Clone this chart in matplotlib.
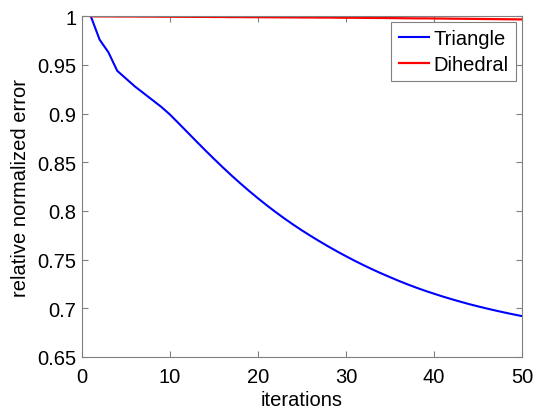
import numpy as np
from matplotlib import pyplot as plt

plt.rcParams['font.family'] = ['Liberation Sans', 'DejaVu Sans']

iterations = list(range(1, 51))

triangle = [1.000, 0.976, 0.963, 0.944, 0.936, 0.928, 0.921, 0.914, 0.907, 0.899,
            0.8899, 0.8807, 0.8715, 0.8624, 0.8535, 0.8448, 0.8364, 0.8283, 0.8205, 0.8130,
            0.8058, 0.7989, 0.7923, 0.7860, 0.7800, 0.7743, 0.7688, 0.7635, 0.7584, 0.7535,
            0.7488, 0.7443, 0.7400, 0.7359, 0.7320, 0.7282, 0.7246, 0.7212, 0.7180, 0.7150,
            0.7121, 0.7094, 0.7068, 0.7043, 0.7020, 0.6998, 0.6977, 0.6957, 0.6938, 0.6920]

dihedral = [1.0000, 0.9999, 0.9999, 0.9998, 0.9998, 0.9998, 0.9997, 0.9997, 0.9996, 0.9996,
            0.9995, 0.9995, 0.9994, 0.9994, 0.9993, 0.9993, 0.9992, 0.9992, 0.9991, 0.9991,
            0.9990, 0.9990, 0.9989, 0.9989, 0.9988, 0.9988, 0.9987, 0.9987, 0.9986, 0.9985,
            0.9985, 0.9984, 0.9983, 0.9983, 0.9982, 0.9981, 0.9980, 0.9979, 0.9979, 0.9978,
            0.9977, 0.9976, 0.9975, 0.9974, 0.9973, 0.9972, 0.9971, 0.9970, 0.9969, 0.9968]

xticks = [0, 10, 20, 30, 40, 50]
yticks = [0.65, 0.7, 0.75, 0.8, 0.85, 0.9, 0.95, 1]
yticklabels = ['0.65', '0.7', '0.75', '0.8', '0.85', '0.9', '0.95', '1']


def plot_errors():
    fig = plt.figure(figsize=(5.34, 4.14), dpi=100)
    ax = fig.add_axes([0.1536, 0.1353, 0.8239, 0.8229])

    ax.plot(iterations, triangle, color='#0000ff', lw=1.5, label='Triangle')
    ax.plot(iterations, dihedral, color='#ff0000', lw=1.6, label='Dihedral')

    ax.set_xlim(0, 50)
    ax.set_ylim(0.65, 1)
    ax.set_xticks(xticks)
    ax.set_yticks(yticks)
    ax.set_yticklabels(yticklabels)
    ax.tick_params(direction='in', top=True, right=True, length=4,
                   color='#808080', labelsize=14.5)
    ax.tick_params(axis='x', pad=7)
    ax.tick_params(axis='y', pad=4)
    for s in ax.spines.values():
        s.set_color('#808080')
        s.set_linewidth(0.8)

    ax.set_xlabel('iterations', fontsize=14.5, labelpad=3)
    ax.set_ylabel('relative normalized error', fontsize=14.5, labelpad=5)

    leg = ax.legend(loc='upper right', fontsize=14.5, fancybox=False,
                    edgecolor='#808080', framealpha=1, borderaxespad=0.3,
                    handlelength=1.5, handletextpad=0.25, borderpad=0.35,
                    labelspacing=0.35)
    leg.get_frame().set_linewidth(0.8)

    fig.savefig('out.png', dpi=100)


if __name__ == '__main__':
    plot_errors()
